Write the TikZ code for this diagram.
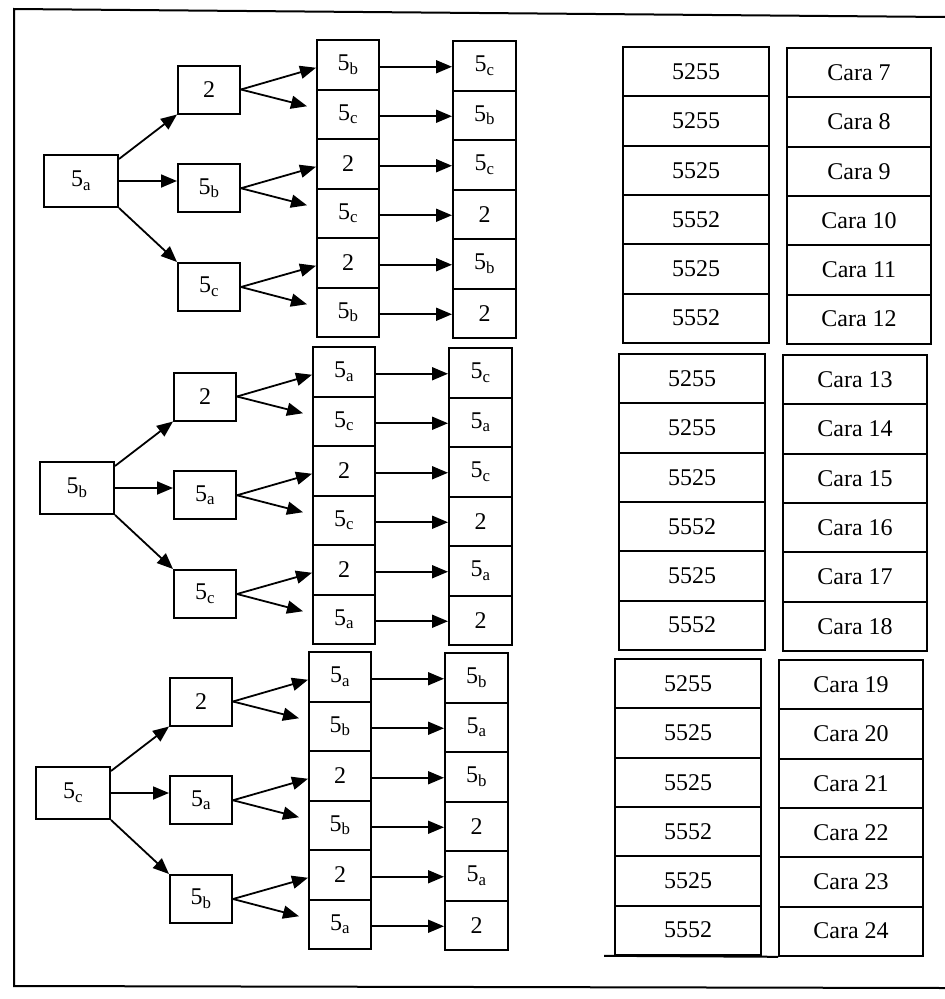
\documentclass[tikz,border=0pt]{standalone}
\usepackage{fontspec}
\setmainfont{Liberation Serif}
\usetikzlibrary{arrows.meta,calc}
\newcommand\fivea{5\textsubscript{a}}
\newcommand\fiveb{5\textsubscript{b}}
\newcommand\fivec{5\textsubscript{c}}
\tikzset{
  box/.style={draw,line width=2pt,rectangle,inner sep=0pt,font=\fontsize{24}{28}\selectfont},
  arr/.style={line width=1.8pt,-{Triangle[length=16pt,width=13pt]}},
  frameline/.style={line width=2pt},
}
% #1 prefix, #2 dx, #3 top, #4 root label, #5 L2 labels, #6 col3, #7 col4, #8 col5, #9 first Cara
\newcommand\drawgroup[9]{%
  \begin{scope}[shift={(#2,#3)}]
    \node[box,minimum width=74pt,minimum height=52pt] (#1r) at (81,141) {#4};
    \foreach \lab [count=\i] in {#5} {
      \node[box,minimum width=62pt,minimum height=48pt] (#1l\i) at (209,{49.5+(\i-1)*98.75}) {\lab};
    }
    \foreach \lab [count=\i] in {#6} {
      \node[box,minimum width=62pt,minimum height=49.5pt] (#1a\i) at (348,{(\i-0.5)*49.5}) {\lab};
    }
    \foreach \lab [count=\i] in {#7} {
      \node[box,minimum width=63pt,minimum height=49.5pt] (#1b\i) at (484.5,{1+(\i-0.5)*49.5}) {\lab};
    }
    \foreach \lab [count=\i] in {#8} {
      \node[box,minimum width=146pt,minimum height=49.3pt] (#1e\i) at (696,{7+(\i-0.5)*49.3}) {\lab};
    }
    \foreach \i in {1,...,6} {
      \pgfmathtruncatemacro\cn{#9+\i-1}
      \node[box,minimum width=144pt,minimum height=49.3pt] (#1f\i) at (859,{8+(\i-0.5)*49.3}) {Cara \cn};
    }
    \draw[arr] ([yshift=-5pt]#1r.north east) -- (#1l1.south west);
    \draw[arr] (#1r.east) -- (#1r.east -| #1l2.west);
    \draw[arr] (#1r.south east) -- (#1l3.north west);
    \foreach \k in {1,2,3} {
      \pgfmathtruncatemacro\up{2*\k-1}
      \pgfmathtruncatemacro\dn{2*\k}
      \draw[arr] (#1l\k.east) -- ([yshift=-3pt]#1a\up.west);
      \draw[arr] (#1l\k.east) -- ([xshift=-9pt,yshift=8pt]#1a\dn.west);
    }
    \foreach \i in {1,...,6} {
      \draw[arr] ([yshift=-2pt]#1a\i.east) -- ([yshift=-2pt]#1a\i.east -| #1b\i.west);
    }
  \end{scope}
}
\begin{document}
\begin{tikzpicture}[x=1pt,y=-1pt]
  \useasboundingbox (0,0) rectangle (945,999);
  \draw[frameline] (945,17) -- (14,9) -- (14,986) -- (945,988);
  \drawgroup{g1}{0}{40}{\fivea}{2,\fiveb,\fivec}%
    {\fiveb,\fivec,2,\fivec,2,\fiveb}{\fivec,\fiveb,\fivec,2,\fiveb,2}%
    {5255,5255,5525,5552,5525,5552}{7}
  \drawgroup{g2}{-4}{347}{\fiveb}{2,\fivea,\fivec}%
    {\fivea,\fivec,2,\fivec,2,\fivea}{\fivec,\fivea,\fivec,2,\fivea,2}%
    {5255,5255,5525,5552,5525,5552}{13}
  \drawgroup{g3}{-8}{652}{\fivec}{2,\fivea,\fiveb}%
    {\fivea,\fiveb,2,\fiveb,2,\fivea}{\fiveb,\fivea,\fiveb,2,\fivea,2}%
    {5255,5525,5525,5552,5525,5552}{19}
  \draw[frameline] ([xshift=-10pt]g3e6.south west) -- (g3f6.south west);
\end{tikzpicture}
\end{document}
